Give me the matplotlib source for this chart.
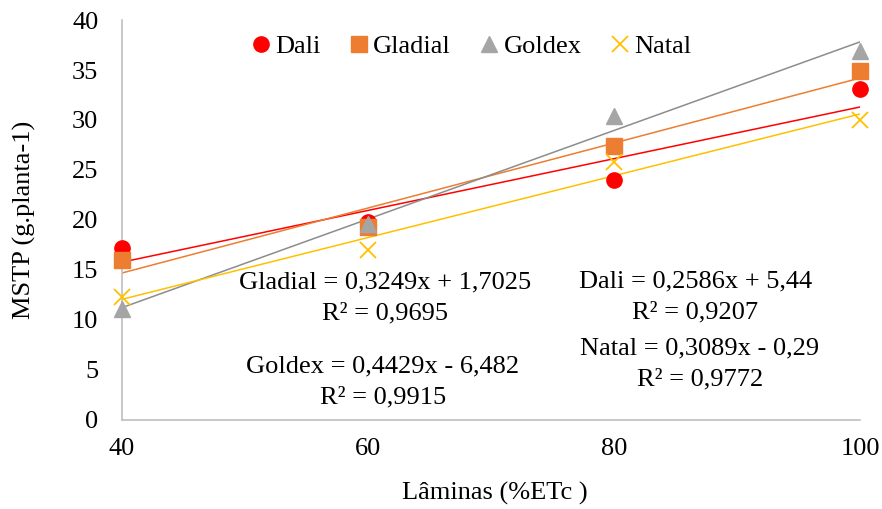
import numpy as np
import matplotlib
matplotlib.use('Agg')
import matplotlib.pyplot as plt

plt.rcParams['font.family'] = ['Liberation Serif', 'DejaVu Serif']

# Lâminas de irrigação (%ETc)
laminas = [40, 60, 80, 100]

# MSTP por cultivar
dali = [17.2, 19.8, 24.0, 33.1]
gladial = [16.0, 19.3, 27.4, 34.9]
goldex = [11.1, 19.6, 30.4, 36.9]
natal = [12.3, 17.0, 25.8, 30.0]

# Coeficientes das linhas de tendência (inclinação, intercepto)
coef_dali = (0.2586, 5.44)
coef_gladial = (0.3249, 1.7025)
coef_goldex = (0.4429, -6.482)
coef_natal = (0.3089, -0.29)

fig = plt.figure(figsize=(8.82, 5.09), dpi=100)
ax = fig.add_axes([0.1383, 0.1749, 0.8367, 0.7858])

x = np.array(laminas, dtype=float)

series = [
    ('Dali', dali, coef_dali, '#FF0000', '#FF0000', 'o', 11),
    ('Gladial', gladial, coef_gladial, '#ED7D31', '#ED7D31', 's', 11),
    ('Goldex', goldex, coef_goldex, '#A5A5A5', '#8C8C8C', '^', 12),
    ('Natal', natal, coef_natal, '#FFC000', '#FFC000', 'x', 11),
]

# linhas de tendência primeiro, marcadores por cima
for nome, y, (a, b), cor, cor_linha, mk, ms in series:
    ax.plot(x, a * x + b, color=cor_linha, lw=1.1, zorder=2)

for nome, y, coef, cor, cor_linha, mk, ms in series:
    if mk == 'x':
        ax.plot(x, y, ls='none', marker=mk, ms=ms, mew=1.3, color=cor,
                label=nome, zorder=3, clip_on=False)
    else:
        ax.plot(x, y, ls='none', marker=mk, ms=ms, mec=cor, mfc=cor,
                label=nome, zorder=3, clip_on=False)

ax.set_xlim(40, 100)
ax.set_ylim(0, 40)
ax.set_xticks([40, 60, 80, 100])
ax.set_yticks(range(0, 41, 5))
ax.tick_params(length=0, labelsize=19)
ax.tick_params(axis='x', pad=13)
ax.tick_params(axis='y', pad=17)

for s in ['top', 'right']:
    ax.spines[s].set_visible(False)
for s in ['left', 'bottom']:
    ax.spines[s].set_color('#BFBFBF')
    ax.spines[s].set_linewidth(1.2)

ax.set_xlabel('Lâminas (%ETc )', fontsize=19, va='center')
ax.set_ylabel('MSTP (g.planta-1)', fontsize=19, va='center')
ax.xaxis.set_label_coords(0.505, -0.183)
ax.yaxis.set_label_coords(-0.1325, 0.5)

# equações
eq = dict(fontsize=19, ha='center', va='center', linespacing=1.5)
ax.text(61.4, 12.2, 'Gladial = 0,3249x + 1,7025\nR² = 0,9695', **eq)
ax.text(61.2, 3.8, 'Goldex = 0,4429x - 6,482\nR² = 0,9915', **eq)
ax.text(86.6, 12.3, 'Dali = 0,2586x + 5,44\nR² = 0,9207', **eq)
ax.text(87.0, 5.6, 'Natal = 0,3089x - 0,29\nR² = 0,9772', **eq)

ax.legend(loc='center', bbox_to_anchor=(0.47, 0.935), ncol=4, frameon=False,
          fontsize=19, handletextpad=0.0, columnspacing=0.9, handlelength=1.1,
          markerscale=1.0)

fig.savefig('out.png', dpi=100)
